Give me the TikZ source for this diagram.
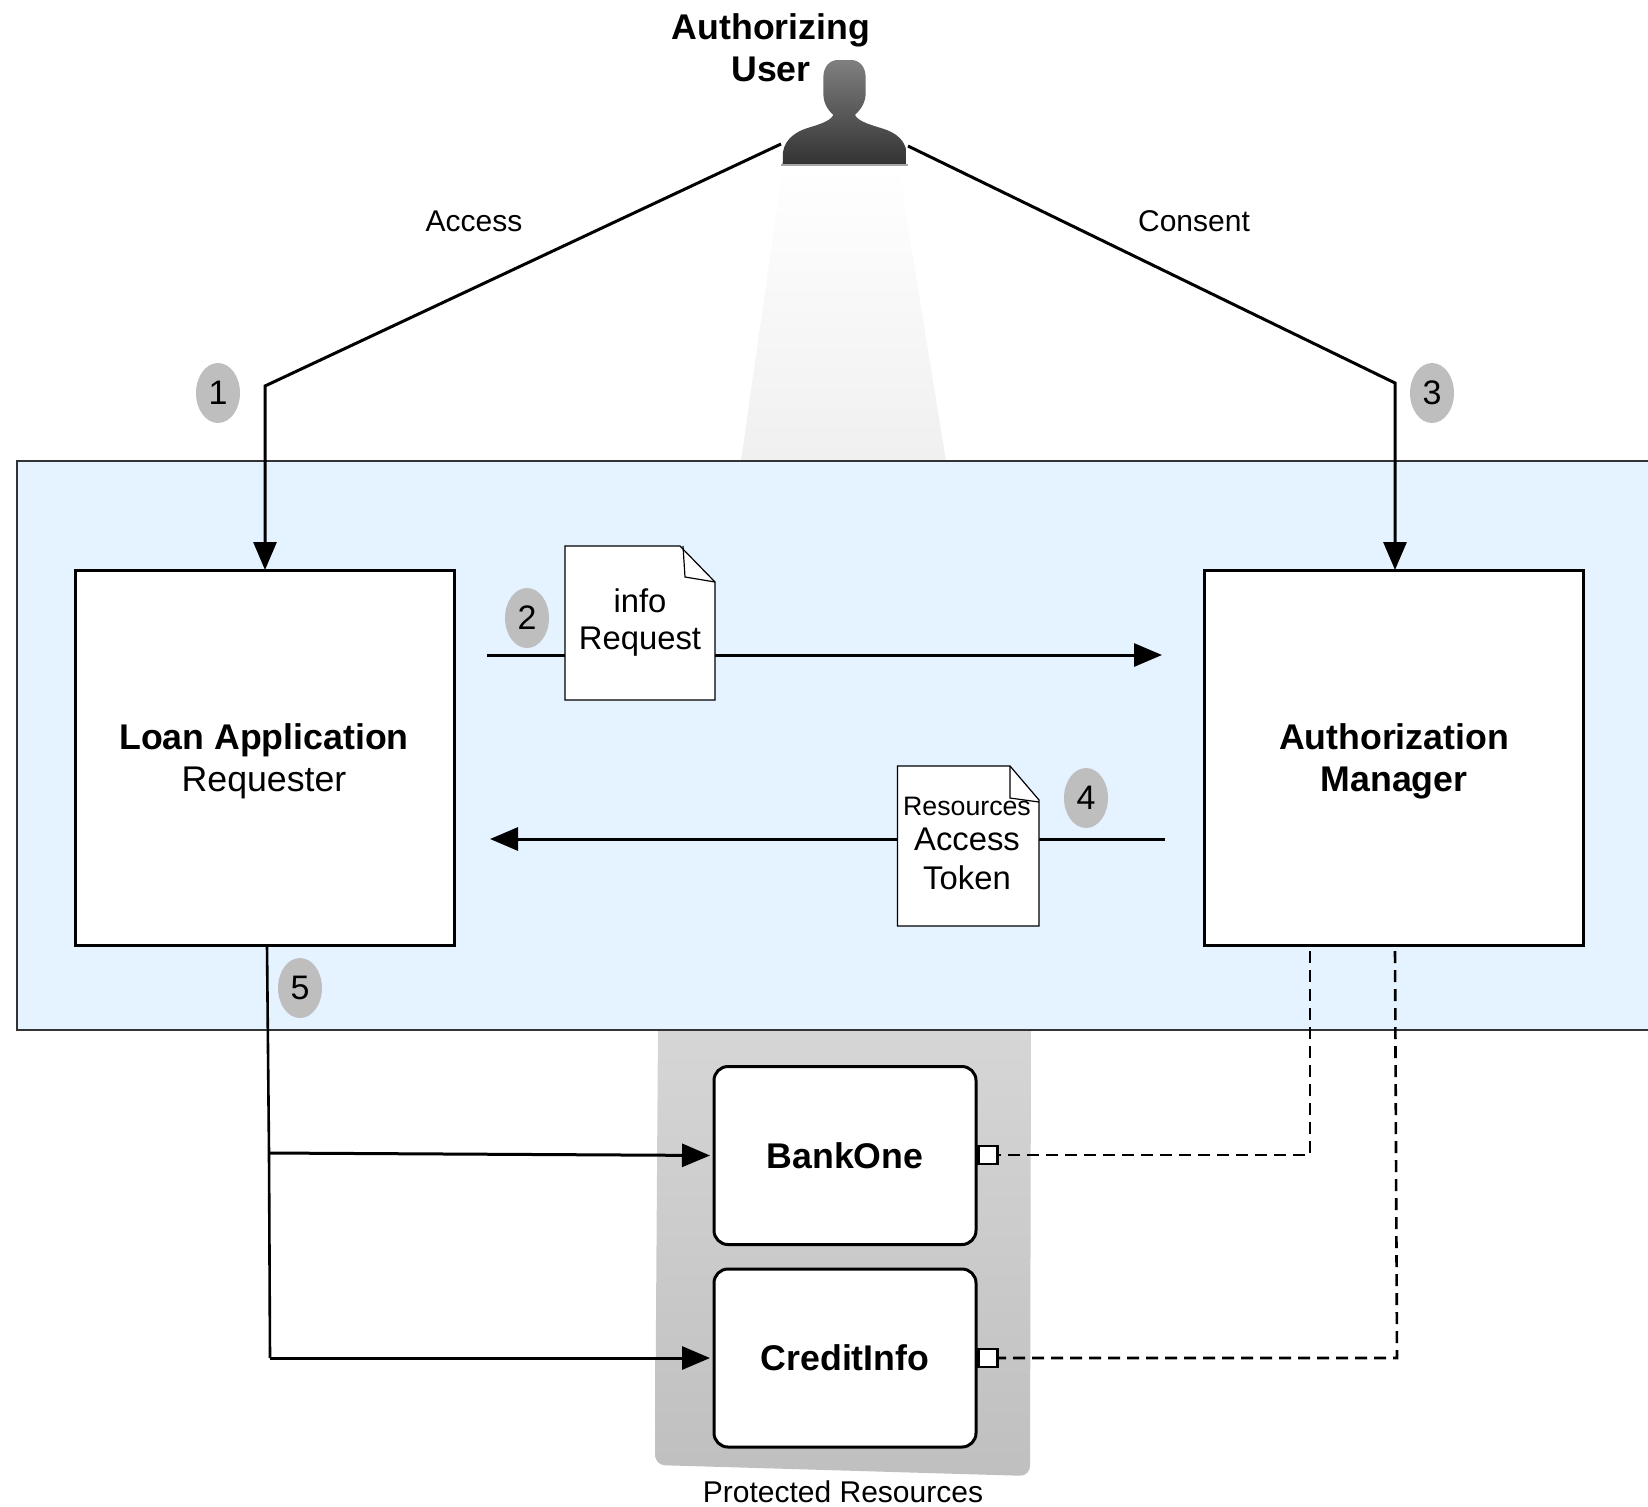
\documentclass[tikz,border=0pt]{standalone}
\usepackage{fontspec}
\setmainfont{Liberation Sans}
\usetikzlibrary{arrows.meta,calc,shapes.geometric}
\definecolor{bluezone}{HTML}{E5F2FF}
\definecolor{badgegray}{HTML}{BEBEBE}
\tikzset{
  bigtext/.style={font=\fontsize{17.85}{21}\selectfont,align=center,inner sep=0pt},
  bigbold/.style={font=\fontsize{17.85}{21}\bfseries\selectfont,align=center,inner sep=0pt},
  smalltext/.style={font=\fontsize{15}{18}\selectfont,inner sep=0pt},
  doctext/.style={font=\fontsize{16.4}{18.5}\selectfont,align=center,inner sep=0pt},
  badge/.style={ellipse,fill=badgegray,minimum width=22pt,minimum height=30pt,inner sep=0pt,font=\fontsize{17}{20}\selectfont},
  mainbox/.style={draw=black,line width=1.5pt,fill=white,minimum width=189.5pt,minimum height=187.5pt,inner sep=0pt,outer sep=0pt},
  resbox/.style={draw=black,line width=1.5pt,fill=white,rounded corners=7pt,minimum width=131pt,minimum height=89pt,inner sep=0pt,outer sep=0pt,font=\fontsize{17.85}{21}\bfseries\selectfont},
  port/.style={draw=black,line width=1.4pt,fill=white,minimum width=9.5pt,minimum height=9pt,inner sep=0pt,outer sep=0pt},
  flow/.style={draw=black,line width=1.5pt,-{Triangle[length=14pt,width=11.5pt]}},
  plainflow/.style={draw=black,line width=1.3pt},
  link/.style={draw=black,line width=1.3pt,dash pattern=on 6pt off 3.5pt},
  docshape/.style={draw=black,line width=0.6pt,fill=white},
}
\begin{document}
\begin{tikzpicture}[x=0.5pt,y=-0.5pt]
\useasboundingbox (0,0) rectangle (1648,1506);
% spotlight and resource panel
\shade[top color=white,bottom color=black!6] (783,165) -- (898,165) -- (946,461) -- (741,461) -- cycle;
\shade[top color=black!16,bottom color=black!25]
  (658,1025) [rounded corners=5pt] -- (655,1465) -- (1030,1476) [sharp corners] -- (1031,1025) -- cycle;
% blue zone
\fill[bluezone] (17,461) rectangle (1648,1030);
\draw[black!80,line width=0.6pt] (1648,461) -- (17,461) -- (17,1030) -- (1648,1030);
% user
\shade[top color=black!50,bottom color=black!80]
  (782.7,164) -- (783,152) .. controls (785,138) and (798,131) .. (806.7,128.3)
  .. controls (815,125.5) and (830,122) .. (833.3,115)
  .. controls (826,108) and (823.3,102) .. (823.3,92)
  -- (823.3,78) .. controls (823.3,66) and (830,60) .. (838,60)
  -- (851,60) .. controls (859,60) and (865.7,66) .. (865.7,78)
  -- (865.7,92) .. controls (865.7,102) and (862,108) .. (855,115)
  .. controls (858,122) and (875,126) .. (884,129)
  .. controls (896,133) and (905,140) .. (906.5,152) -- (906.7,164) -- cycle;
\draw[black!35,line width=0.6pt] (781,165) -- (908,165);
\node[bigbold] (authuser) at (771,48) {Authorizing\\User};
% main boxes
\node[mainbox] (loan) at (265,757.5) {};
\node[mainbox] (am) at (1394,757.5) {};
\node[bigtext] (loantext) at (264,761) {\textbf{Loan Application}\\Requester};
\node[bigbold] (amtext) at (1394,761) {Authorization\\Manager};
% resources
\node[resbox] (bank) at (845,1155.5) {BankOne};
\node[resbox] (credit) at (845,1358) {CreditInfo};
\node[port] (p1) at (988,1155) {};
\node[port] (p2) at (988,1358) {};
% connector end points
\coordinate (u1) at (781,144);
\coordinate (b1) at (265,386);
\coordinate (u3) at (908,146);
\coordinate (b3) at (1395,383);
\coordinate (s2) at (487,655);
\coordinate (e2) at (1162,655);
\coordinate (s4) at (1165,839);
\coordinate (e4) at (490,839);
\coordinate (v5t) at (267,945);
\coordinate (v5a) at (269,1153);
\coordinate (v5b) at (270,1358);
\coordinate (d1s) at (1310,951);
\coordinate (d1b) at (1310,1155);
\coordinate (d2s) at (1395,951);
\coordinate (d2b) at (1397,1358);
% connectors
\draw[flow] (u1) -- (b1) -- (loan.north);
\draw[flow] (u3) -- (b3) -- (b3 |- am.north);
\draw[flow] (s2) -- (e2);
\draw[flow] (s4) -- (e4);
\draw[plainflow] (v5t) -- (v5a) -- (v5b);
\draw[flow,shorten >=2pt] (v5a) -- (bank.west);
\draw[flow,shorten >=2pt] (v5b) -- (credit.west);
\draw[link] (d1s) -- (d1b) -- (p1.east);
\draw[link] (d2s) -- (d2b) -- (p2.east);
% documents
\draw[docshape] (565,546) -- (680,546) -- (715,582) -- (715,700) -- (565,700) -- cycle;
\draw[line width=0.6pt] (683,546) -- (685,577) -- (715,582);
\node[doctext] (req) at (640,623) {info\\Request};
\draw[docshape] (897.5,766) -- (1010,766) -- (1039,800) -- (1039,926) -- (897.5,926) -- cycle;
\draw[line width=0.6pt] (1010,766) -- (1010,798) -- (1039,802);
\node[font=\fontsize{13.35}{16}\selectfont,inner sep=0pt] (res) at (967,806) {Resources};
\node[doctext,font=\fontsize{16.4}{19.5}\selectfont] (tok) at (967,859) {Access\\Token};
% badges
\node[badge] (n1) at (218,393) {1};
\node[badge] (n2) at (527,618) {2};
\node[badge] (n3) at (1432,393) {3};
\node[badge] (n4) at (1086,798) {4};
\node[badge] (n5) at (300,988) {5};
% labels
\node[smalltext] (acc) at (474,221) {Access};
\node[smalltext] (con) at (1194,221) {Consent};
\node[smalltext] (prot) at (843,1492) {Protected Resources};
\end{tikzpicture}
\end{document}
